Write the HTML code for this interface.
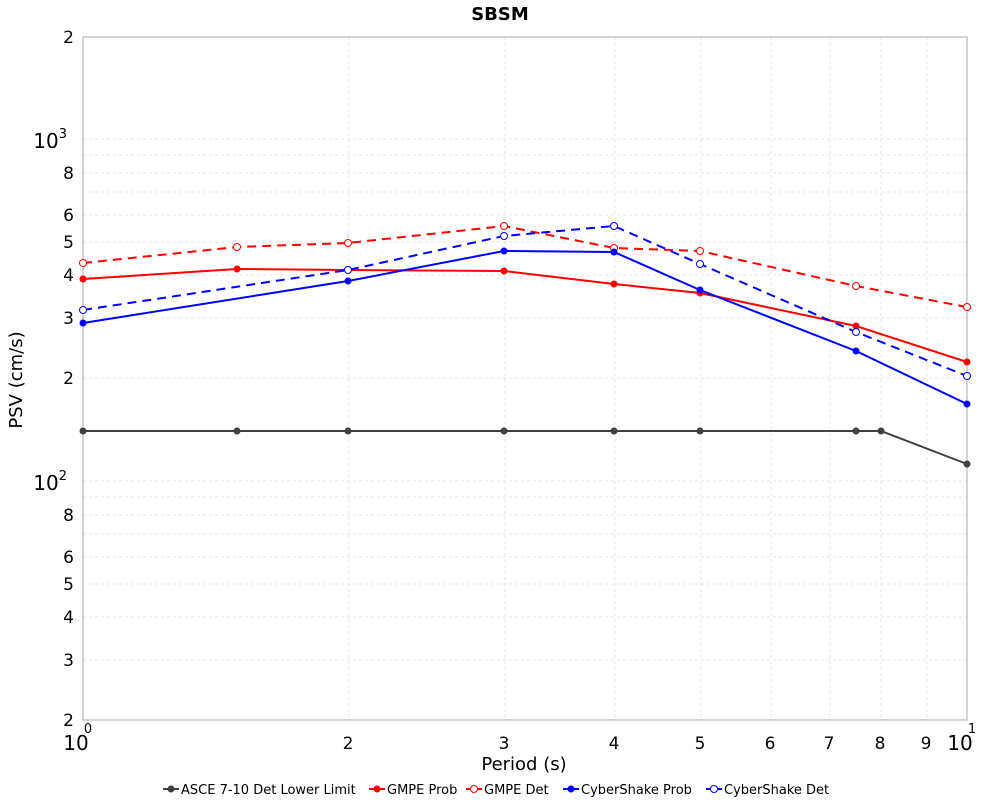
<!DOCTYPE html>
<html><head><meta charset="utf-8"><style>body{margin:0;background:#fff}</style></head><body>
<svg width="1000" height="800" xmlns="http://www.w3.org/2000/svg" font-family="DejaVu Sans, Liberation Sans, sans-serif">
<rect width="1000" height="800" fill="#fff"/>
<text x="500" y="20" text-anchor="middle" font-size="18" font-weight="bold">SBSM</text>
<g stroke="#e4e4e4" stroke-dasharray="3,3" stroke-width="1">
<line x1="349" y1="37" x2="349" y2="720"/><line x1="505" y1="37" x2="505" y2="720"/><line x1="615" y1="37" x2="615" y2="720"/><line x1="701" y1="37" x2="701" y2="720"/><line x1="771" y1="37" x2="771" y2="720"/><line x1="830" y1="37" x2="830" y2="720"/><line x1="881" y1="37" x2="881" y2="720"/><line x1="927" y1="37" x2="927" y2="720"/>
<line x1="83" x2="967" y1="617" y2="617"/><line x1="83" x2="967" y1="660" y2="660"/><line x1="83" x2="967" y1="584" y2="584"/><line x1="83" x2="967" y1="557" y2="557"/><line x1="83" x2="967" y1="534" y2="534"/><line x1="83" x2="967" y1="515" y2="515"/><line x1="83" x2="967" y1="497" y2="497"/><line x1="83" x2="967" y1="481" y2="481"/>
<line x1="83" x2="967" y1="378" y2="378"/><line x1="83" x2="967" y1="318" y2="318"/><line x1="83" x2="967" y1="275" y2="275"/><line x1="83" x2="967" y1="242" y2="242"/><line x1="83" x2="967" y1="215" y2="215"/><line x1="83" x2="967" y1="192" y2="192"/><line x1="83" x2="967" y1="173" y2="173"/><line x1="83" x2="967" y1="155" y2="155"/><line x1="83" x2="967" y1="139" y2="139"/>
</g>
<rect x="83" y="37" width="884" height="683" fill="none" stroke="#aaa"/>
<g font-size="17" text-anchor="end">
<text x="74" y="43">2</text>
<text x="67" y="148" font-size="20">10<tspan font-size="13" dy="-10">3</tspan></text>
<text x="74" y="179">8</text><text x="74" y="221">6</text><text x="74" y="248">5</text><text x="74" y="281">4</text><text x="74" y="324">3</text><text x="74" y="384">2</text>
<text x="67" y="490" font-size="20">10<tspan font-size="13" dy="-10">2</tspan></text>
<text x="74" y="521">8</text><text x="74" y="563">6</text><text x="74" y="590">5</text><text x="74" y="623">4</text><text x="74" y="666">3</text><text x="74" y="726">2</text>
</g>
<g font-size="17" text-anchor="middle">
<text x="76" y="750" font-size="20">10</text><text x="88" y="733" font-size="13">0</text>
<text x="348" y="749">2</text><text x="504" y="749">3</text><text x="614" y="749">4</text><text x="700" y="749">5</text><text x="770" y="749">6</text><text x="829" y="749">7</text><text x="880" y="749">8</text><text x="926" y="749">9</text>
<text x="960" y="750" font-size="20">10</text><text x="972" y="733" font-size="13">1</text>
</g>
<text x="524" y="770" text-anchor="middle" font-size="18">Period (s)</text>
<text x="22" y="380" text-anchor="middle" font-size="18" transform="rotate(-90 22 380)">PSV (cm/s)</text>
<g fill="none" stroke-width="2">
<polyline stroke="#404040" points="83,431 237,431 348,431 504,431 614,431 700,431 856,431 881,431 967,464"/>
<polyline stroke="#f00" points="83,279 237,269 348,270 504,271 614,284 700,293 856,326 967,362"/>
<polyline stroke="#f00" stroke-dasharray="9,6" points="83,263 237,247 348,243 504,226 614,248 700,251 856,286 967,307"/>
<polyline stroke="#00f" points="83,323 348,281 504,251 614,252 700,290 856,351 967,404"/>
<polyline stroke="#00f" stroke-dasharray="9,6" points="83,310 348,270 504,236 614,226 700,264 856,332 967,376"/>
</g>
<g fill="#404040"><circle cx="83" cy="431" r="3.5"/><circle cx="237" cy="431" r="3.5"/><circle cx="348" cy="431" r="3.5"/><circle cx="504" cy="431" r="3.5"/><circle cx="614" cy="431" r="3.5"/><circle cx="700" cy="431" r="3.5"/><circle cx="856" cy="431" r="3.5"/><circle cx="881" cy="431" r="3.5"/><circle cx="967" cy="464" r="3.5"/></g>
<g fill="#f00"><circle cx="83" cy="279" r="3.5"/><circle cx="237" cy="269" r="3.5"/><circle cx="348" cy="270" r="3.5"/><circle cx="504" cy="271" r="3.5"/><circle cx="614" cy="284" r="3.5"/><circle cx="700" cy="293" r="3.5"/><circle cx="856" cy="326" r="3.5"/><circle cx="967" cy="362" r="3.5"/></g>
<g fill="#fff" stroke="#f00"><circle cx="83" cy="263" r="3.5"/><circle cx="237" cy="247" r="3.5"/><circle cx="348" cy="243" r="3.5"/><circle cx="504" cy="226" r="3.5"/><circle cx="614" cy="248" r="3.5"/><circle cx="700" cy="251" r="3.5"/><circle cx="856" cy="286" r="3.5"/><circle cx="967" cy="307" r="3.5"/></g>
<g fill="#00f"><circle cx="83" cy="323" r="3.5"/><circle cx="348" cy="281" r="3.5"/><circle cx="504" cy="251" r="3.5"/><circle cx="614" cy="252" r="3.5"/><circle cx="700" cy="290" r="3.5"/><circle cx="856" cy="351" r="3.5"/><circle cx="967" cy="404" r="3.5"/></g>
<g fill="#fff" stroke="#00f"><circle cx="83" cy="310" r="3.5"/><circle cx="348" cy="270" r="3.5"/><circle cx="504" cy="236" r="3.5"/><circle cx="614" cy="226" r="3.5"/><circle cx="700" cy="264" r="3.5"/><circle cx="856" cy="332" r="3.5"/><circle cx="967" cy="376" r="3.5"/></g>
<g font-size="13" stroke-width="2">
<line x1="163" y1="789" x2="179" y2="789" stroke="#404040"/><circle cx="171" cy="789" r="3.5" fill="#404040"/><text x="181" y="794">ASCE 7-10 Det Lower Limit</text>
<line x1="369" y1="789" x2="385" y2="789" stroke="#f00"/><circle cx="377" cy="789" r="3.5" fill="#f00"/><text x="387" y="794">GMPE Prob</text>
<line x1="466" y1="789" x2="482" y2="789" stroke="#f00" stroke-dasharray="4,2"/><circle cx="474" cy="789" r="3.5" fill="#fff" stroke="#f00" stroke-width="1"/><text x="484" y="794">GMPE Det</text>
<line x1="563" y1="789" x2="579" y2="789" stroke="#00f"/><circle cx="571" cy="789" r="3.5" fill="#00f"/><text x="581" y="794">CyberShake Prob</text>
<line x1="706" y1="789" x2="722" y2="789" stroke="#00f" stroke-dasharray="4,2"/><circle cx="714" cy="789" r="3.5" fill="#fff" stroke="#00f" stroke-width="1"/><text x="724" y="794">CyberShake Det</text>
</g>
</svg>
</body></html>
